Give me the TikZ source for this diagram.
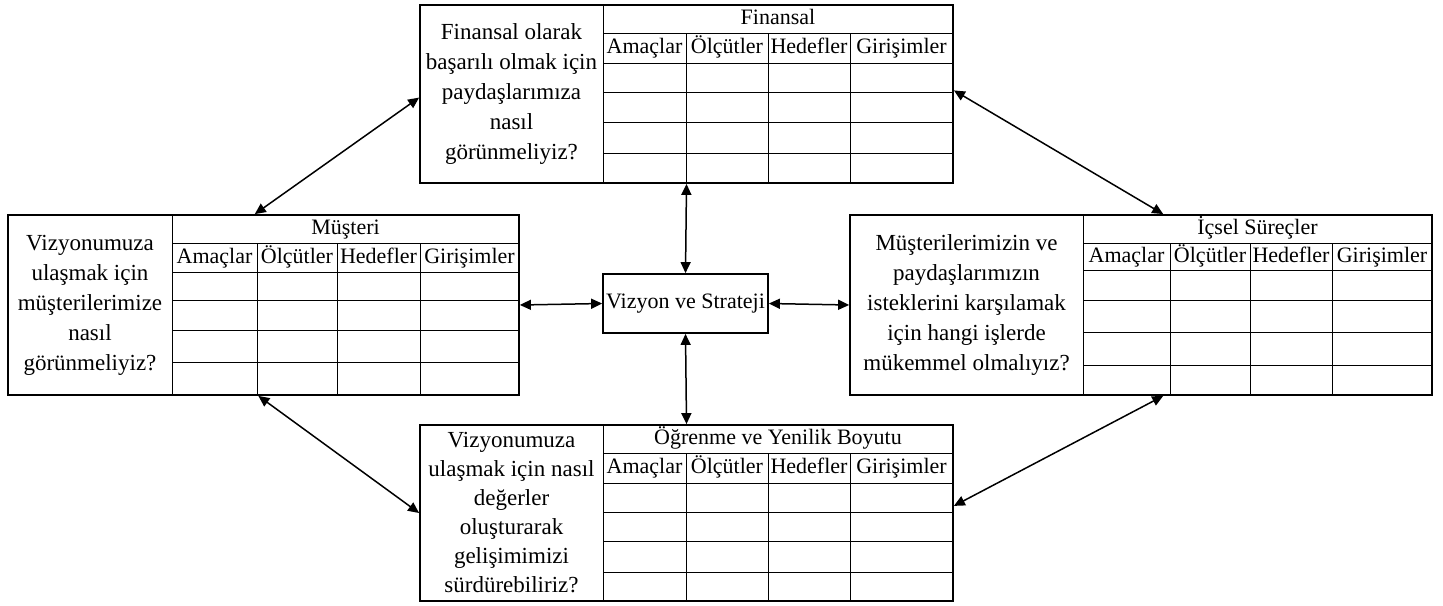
\documentclass[tikz,border=0pt]{standalone}
\usepackage{fontspec}
\setmainfont{Liberation Serif}
\usetikzlibrary{arrows.meta,fit,calc}

\tikzset{
  pbox/.style={draw, line width=0.9pt, inner sep=0pt},
  gridline/.style={line width=0.5pt},
  question/.style={align=center, inner sep=0pt, font=\fontsize{11.5}{15}\selectfont},
  cell/.style={inner sep=0pt, text height=1.75ex, text depth=0.45ex, font=\fontsize{11}{13}\selectfont},
  biarrow/.style={{Triangle[length=5.5pt,width=5pt]}-{Triangle[length=5.5pt,width=5pt]}, line width=0.75pt},
}

\begin{document}
\begin{tikzpicture}[x=0.5pt, y=-0.5pt]
\useasboundingbox (0,0) rectangle (1443,605);

% Finansal
\draw[gridline] (603,5) -- (603,183);
\draw[gridline] (603,33) -- (953,33);
\foreach \y in {63,92,122,153} \draw[gridline] (603,\y) -- (953,\y);
\foreach \x in {686,768,850} \draw[gridline] (\x,33) -- (\x,183);
\node[pbox, fit={(420,5) (953,183)}] (fin) {};
\node[question] (fin-q) at (511.5,94) {Finansal olarak\\başarılı olmak için\\paydaşlarımıza\\nasıl\\görünmeliyiz?};
\node[cell] (fin-t) at (778,19) {Finansal};
\foreach \x/\c [count=\i] in {644.5/Amaçlar, 727/Ölçütler, 809/Hedefler, 901.5/Girişimler}
  \node[cell] (fin-c\i) at (\x,48) {\c};

% Müşteri
\draw[gridline] (172,215) -- (172,395);
\draw[gridline] (172,243) -- (519,243);
\foreach \y in {272,300,330,362} \draw[gridline] (172,\y) -- (519,\y);
\foreach \x in {257,337,420} \draw[gridline] (\x,243) -- (\x,395);
\node[pbox, fit={(8,215) (519,395)}] (mus) {};
\node[question] (mus-q) at (90,305) {Vizyonumuza\\ulaşmak için\\müşterilerimize\\nasıl\\görünmeliyiz?};
\node[cell] (mus-t) at (345.5,229) {Müşteri};
\foreach \x/\c [count=\i] in {214.5/Amaçlar, 297/Ölçütler, 378.5/Hedefler, 469.5/Girişimler}
  \node[cell] (mus-c\i) at (\x,257.5) {\c};

% İçsel Süreçler
\draw[gridline] (1083,215) -- (1083,395);
\draw[gridline] (1083,243) -- (1432,243);
\foreach \y in {270,300,332,365} \draw[gridline] (1083,\y) -- (1432,\y);
\foreach \x in {1170,1250,1332} \draw[gridline] (\x,243) -- (\x,395);
\node[pbox, fit={(850,215) (1432,395)}] (ics) {};
\node[question] (ics-q) at (966.5,305) {Müşterilerimizin ve\\paydaşlarımızın\\isteklerini karşılamak\\için hangi işlerde\\mükemmel olmalıyız?};
\node[cell] (ics-t) at (1257.5,229) {İçsel Süreçler};
\foreach \x/\c [count=\i] in {1126.5/Amaçlar, 1210/Ölçütler, 1291/Hedefler, 1382/Girişimler}
  \node[cell] (ics-c\i) at (\x,256.5) {\c};

% Öğrenme ve Yenilik
\draw[gridline] (603,425) -- (603,601);
\draw[gridline] (603,453) -- (953,453);
\foreach \y in {483,512,541,572} \draw[gridline] (603,\y) -- (953,\y);
\foreach \x in {686,768,850} \draw[gridline] (\x,453) -- (\x,601);
\node[pbox, fit={(420,425) (953,601)}] (ogr) {};
\node[question, font=\fontsize{11.5}{14.5}\selectfont] (ogr-q) at (511.5,513) {Vizyonumuza\\ulaşmak için nasıl\\değerler\\oluşturarak\\gelişimimizi\\sürdürebiliriz?};
\node[cell] (ogr-t) at (778,439) {Öğrenme ve Yenilik Boyutu};
\foreach \x/\c [count=\i] in {644.5/Amaçlar, 727/Ölçütler, 809/Hedefler, 901.5/Girişimler}
  \node[cell] (ogr-c\i) at (\x,468) {\c};

% center
\node[pbox, minimum width=82.5pt, minimum height=29.5pt, font=\fontsize{11}{13}\selectfont] (vis) at (685.5,303.5) {Vizyon ve Strateji};

% connectors
\draw[biarrow] (fin.south) -- (vis.north);
\draw[biarrow] (vis.south) -- (ogr.north);
\draw[biarrow] (mus.east) -- (vis.west);
\draw[biarrow] (vis.east) -- (ics.west);
\draw[biarrow] ($(mus.north west)!.483!(mus.north east)$) -- ($(fin.north west)!.52!(fin.south west)$);
\draw[biarrow] ($(fin.north east)!.48!(fin.south east)$) -- ($(ics.north west)!.538!(ics.north east)$);
\draw[biarrow] ($(mus.south west)!.49!(mus.south east)$) -- (ogr.west);
\draw[biarrow] ($(ogr.north east)!.46!(ogr.south east)$) -- ($(ics.south west)!.538!(ics.south east)$);
\end{tikzpicture}
\end{document}
